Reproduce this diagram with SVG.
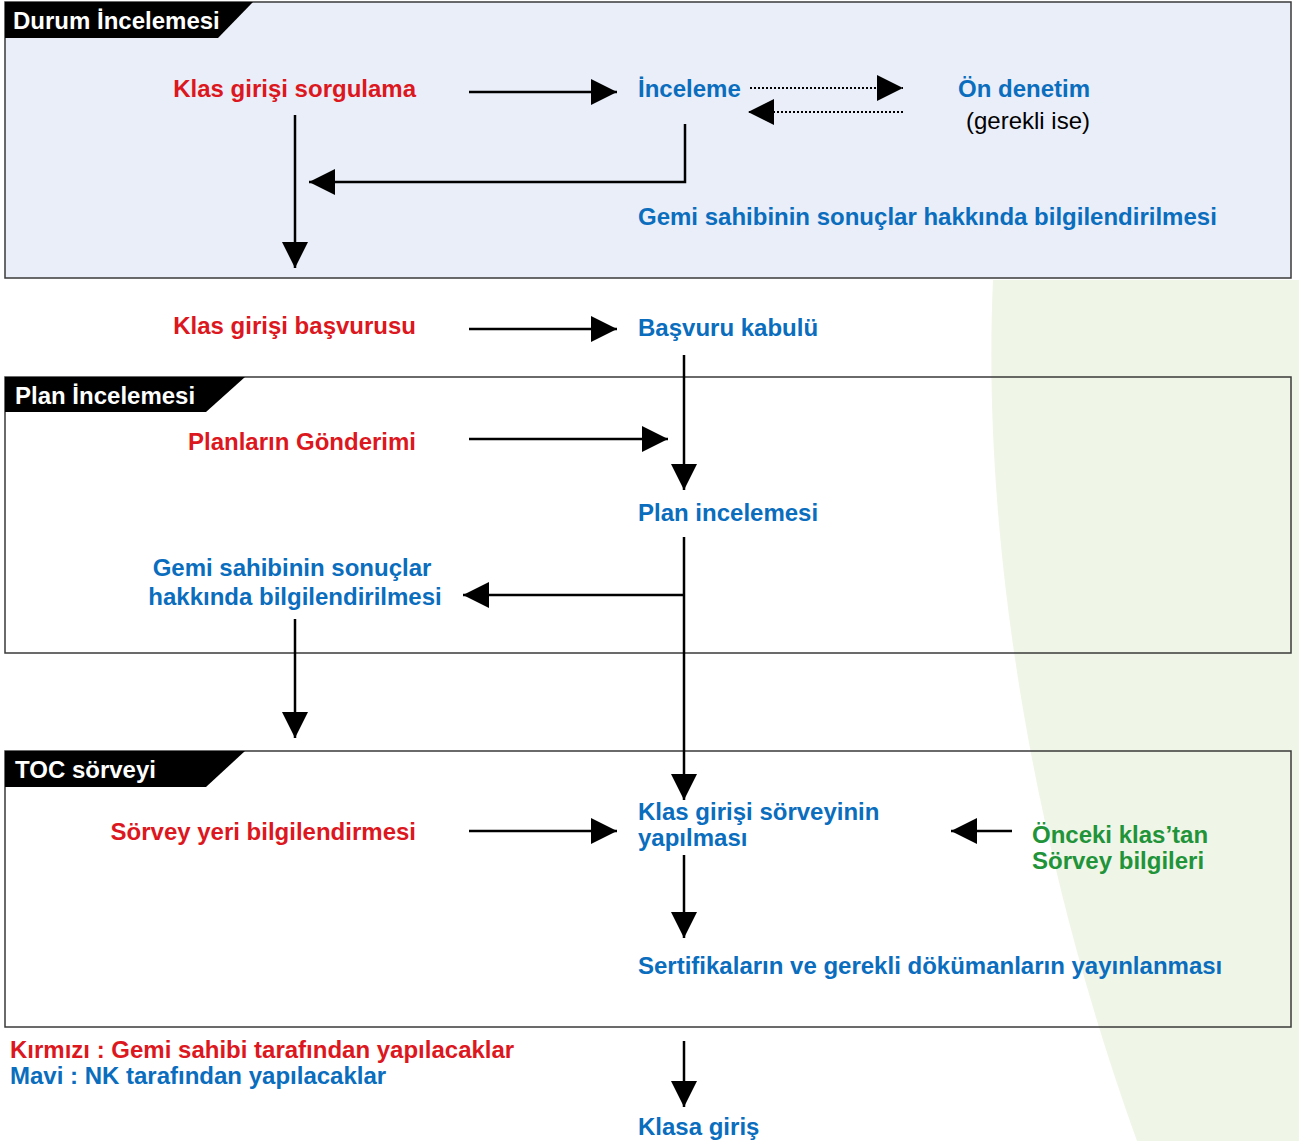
<svg xmlns="http://www.w3.org/2000/svg" width="1299" height="1141" viewBox="0 0 1299 1141">
<style>
text{font-family:"Liberation Sans",Arial,sans-serif;font-weight:bold;font-size:24px}
.r{fill:#dc1720}.b{fill:#0a6dbd}.g{fill:#219339}.w{fill:#fff}.k{fill:#000;font-weight:normal}
.end{text-anchor:end}.mid{text-anchor:middle}
.box{stroke:#3a3a3a;stroke-width:1.5}
.ln{stroke:#000;stroke-width:2.5;fill:none}
.dot{stroke:#000;stroke-width:2;fill:none;stroke-dasharray:2,2}
</style>
<defs>
<marker id="ah" markerUnits="userSpaceOnUse" markerWidth="26" markerHeight="26" refX="26" refY="13" orient="auto" viewBox="0 0 26 26"><path d="M0,0 L26,13 L0,26 Z" fill="#000"/></marker>
</defs>
<rect width="1299" height="1141" fill="#fff"/>
<path d="M993 280 C 982 520, 1025 830, 1137 1141 L 1299 1141 L 1299 280 Z" fill="#eff5e7"/>
<g id="section-durum">
<rect class="box" x="5" y="2" width="1286" height="276" fill="#e9eef8"/>
<path d="M5 2 L253 2 L218 38 L5 38 Z" fill="#000"/>
<text class="w" x="13" y="29">Durum İncelemesi</text>
</g>
<g id="section-plan">
<rect class="box" x="5" y="377" width="1286" height="276" fill="none"/>
<path d="M5 377 L245 377 L206 412 L5 412 Z" fill="#000"/>
<text class="w" x="15" y="404">Plan İncelemesi</text>
</g>
<g id="section-toc">
<rect class="box" x="5" y="751" width="1286" height="276" fill="none"/>
<path d="M5 751 L245 751 L206 787 L5 787 Z" fill="#000"/>
<text class="w" x="15" y="778">TOC sörveyi</text>
</g>
<g id="n1"><text class="r end" x="416" y="97">Klas girişi sorgulama</text></g>
<g id="n2"><text class="b" x="638" y="97">İnceleme</text></g>
<g id="n3"><text class="b" x="958" y="97">Ön denetim</text><text class="k" x="966" y="129">(gerekli ise)</text></g>
<g id="n4"><text class="b" x="638" y="225">Gemi sahibinin sonuçlar hakkında bilgilendirilmesi</text></g>
<g id="n5"><text class="r end" x="416" y="334">Klas girişi başvurusu</text></g>
<g id="n6"><text class="b" x="638" y="336">Başvuru kabulü</text></g>
<g id="n7"><text class="r end" x="416" y="450">Planların Gönderimi</text></g>
<g id="n8"><text class="b" x="638" y="521">Plan incelemesi</text></g>
<g id="n9"><text class="b mid" x="292" y="576">Gemi sahibinin sonuçlar</text><text class="b mid" x="295" y="605">hakkında bilgilendirilmesi</text></g>
<g id="n10"><text class="r end" x="416" y="840">Sörvey yeri bilgilendirmesi</text></g>
<g id="n11"><text class="b" x="638" y="820">Klas girişi sörveyinin</text><text class="b" x="638" y="846">yapılması</text></g>
<g id="n12"><text class="g" x="1032" y="843">Önceki klas’tan</text><text class="g" x="1032" y="869">Sörvey bilgileri</text></g>
<g id="n13"><text class="b" x="638" y="974">Sertifikaların ve gerekli dökümanların yayınlanması</text></g>
<g id="n14"><text class="b" x="638" y="1135">Klasa giriş</text></g>
<g id="legend"><text class="r" x="10" y="1058">Kırmızı : Gemi sahibi tarafından yapılacaklar</text><text class="b" x="10" y="1084">Mavi : NK tarafından yapılacaklar</text></g>
<g id="connectors">
<line class="ln" x1="469" y1="92" x2="617" y2="92" marker-end="url(#ah)"/>
<line class="dot" x1="750" y1="88" x2="903" y2="88" marker-end="url(#ah)"/>
<line class="dot" x1="903" y1="112" x2="748" y2="112" marker-end="url(#ah)"/>
<polyline class="ln" points="685,124 685,182 309,182" marker-end="url(#ah)"/>
<line class="ln" x1="295" y1="115" x2="295" y2="268" marker-end="url(#ah)"/>
<line class="ln" x1="469" y1="329" x2="617" y2="329" marker-end="url(#ah)"/>
<line class="ln" x1="684" y1="355" x2="684" y2="490" marker-end="url(#ah)"/>
<line class="ln" x1="469" y1="439" x2="668" y2="439" marker-end="url(#ah)"/>
<line class="ln" x1="684" y1="537" x2="684" y2="800" marker-end="url(#ah)"/>
<line class="ln" x1="684" y1="595" x2="463" y2="595" marker-end="url(#ah)"/>
<line class="ln" x1="295" y1="619" x2="295" y2="738" marker-end="url(#ah)"/>
<line class="ln" x1="469" y1="831" x2="617" y2="831" marker-end="url(#ah)"/>
<line class="ln" x1="1012" y1="831" x2="951" y2="831" marker-end="url(#ah)"/>
<line class="ln" x1="684" y1="855" x2="684" y2="938" marker-end="url(#ah)"/>
<line class="ln" x1="684" y1="1041" x2="684" y2="1107" marker-end="url(#ah)"/>
</g>
</svg>
